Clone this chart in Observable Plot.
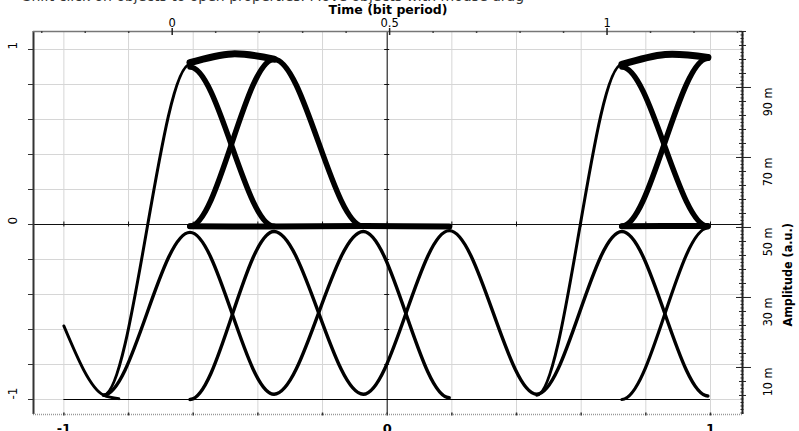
<!DOCTYPE html>
<html>
<head>
<meta charset="utf-8">
<script src="https://cdn.jsdelivr.net/npm/d3@7"></script>
<script src="https://cdn.jsdelivr.net/npm/@observablehq/plot@0.6"></script>
<style>
  html, body { margin: 0; padding: 0; background: #fff; }
  #chart { width: 799px; height: 431px; overflow: hidden; }
</style>
</head>
<body>
<div id="chart"></div>
<script>
// ---- data (bottom axis units / amplitude) ----
const symbolX = [-0.877, -0.61, -0.35, -0.074, 0.192, 0.463, 0.726, 0.992];

const steepTrace   = [-0.975, 0.915, null, null, null, -0.975, 0.915, null];
const topFallTrace = [null, 0.90, -0.01, null, null, null, 0.90, -0.01];
const topRiseTrace = [null, -0.01, 0.945, -0.01, null, null, -0.01, 0.95];
const zeroTrace    = [null, -0.01, -0.012, -0.008, -0.012, null, -0.01, -0.008];
const lowTraceA    = [-0.975, -0.045, -0.97, -0.04, -0.99, null, null, null];
const lowTraceB    = [null, -1, -0.04, -0.97, -0.035, -0.97, -0.04, -0.98];
const lowTraceC    = [null, null, null, null, null, null, -1, -0.02];

const plateauX = [-0.61, -0.48, -0.35, null, 0.726, 0.86, 0.992];
const plateauY = [0.925, 0.975, 0.945, null, 0.915, 0.972, 0.955];

const leadInX = [-1, -0.877, -0.83];
const leadInY = [-0.58, -0.975, -0.995];

const floorLevel = -1;

// tick labels
const bottomTickLabels = [-1, 0, 1];
const leftTickLabels = [-1, 0, 1];
const topTickLabels = [0, 0.5, 1];
const rightTickLabels = [10, 30, 50, 70, 90];

// ---- layout helpers ----
const xMin = -1.094, xMax = 1.099, yMin = -1.0857, yMax = 1.1029;
const PX = 1 / 323.3, PY = 1 / 175;
const topToX = d3.scaleLinear().domain([0, 1]).range([-0.665, 0.68]);   // top axis (bit period)
const mToY = d3.scaleLinear().domain([10, 90]).range([-0.817, 0.783]);  // right axis (m)

const gridXs = d3.range(-5, 6).map(i => i * 0.2);
const gridYs = d3.range(-5, 6).map(i => i * 0.2);
const topMinor = d3.range(-3, 14).map(i => i / 10).filter(t => ![0, 0.5, 1].includes(t));
const rightMinor = d3.range(-3, 107);
const rightMedium = d3.range(2, 107, 4);

function curveEase(context) {
  let x0, y0, i;
  return {
    areaStart() {}, areaEnd() {},
    lineStart() { i = 0; },
    lineEnd() {},
    point(x, y) {
      x = +x; y = +y;
      if (i++ === 0) context.moveTo(x, y);
      else { const d = (x - x0) / 3; context.bezierCurveTo(x0 + d, y0, x - d, y, x, y); }
      x0 = x; y0 = y;
    }
  };
}

const pts = (xs, ys) => xs.map((x, i) => ({x: x ?? NaN, y: ys[i] ?? NaN}));
const trace = (ys, w, xs = symbolX, curve = curveEase) =>
  Plot.line(pts(xs, ys), {x: "x", y: "y", curve, stroke: "black", strokeWidth: w,
    strokeLinecap: "round", strokeLinejoin: "round"});

const narrow = "'Liberation Sans Narrow', 'DejaVu Sans Condensed', 'Arial Narrow', sans-serif";

const chart = Plot.plot({
  width: 799, height: 431,
  marginLeft: 33, marginRight: 57, marginTop: 31, marginBottom: 17,
  x: {domain: [xMin, xMax], axis: null},
  y: {domain: [yMin, yMax], axis: null},
  style: {background: "white", fontFamily: "'DejaVu Sans', sans-serif", fontSize: "12px", overflow: "visible"},
  marks: [
    // grid
    Plot.ruleX(gridXs, {stroke: "#d6d6d6", strokeWidth: 1}),
    Plot.ruleY(gridYs, {stroke: "#d6d6d6", strokeWidth: 1}),
    // centre axes
    Plot.ruleY([0], {stroke: "#111", strokeWidth: 1}),
    Plot.ruleX([0], {stroke: "#111", strokeWidth: 1}),
    Plot.ruleX(gridXs, {y1: -2.5 * PY, y2: 2.5 * PY, stroke: "#111"}),
    Plot.ruleY(gridYs, {x1: -2.5 * PX, x2: 2.5 * PX, stroke: "#111"}),
    // floor trace
    Plot.ruleY([floorLevel], {x1: -1, x2: 1, stroke: "#000", strokeWidth: 1.2}),
    // eye traces
    trace(zeroTrace, 6),
    trace(lowTraceA, 3.4),
    trace(lowTraceB, 3.4),
    trace(lowTraceC, 3.2),
    trace(steepTrace, 3),
    trace(topFallTrace, 5.5),
    trace(topRiseTrace, 5.5),
    trace(plateauY, 7, plateauX, "natural"),
    trace(leadInY, 3, leadInX, "monotone-x"),
    // frame: left axis
    Plot.ruleX([xMin], {stroke: "#333", strokeWidth: 2}),
    Plot.ruleY(gridYs, {x1: xMin - 5 * PX, x2: xMin, stroke: "#333"}),
    // top axis
    Plot.ruleY([yMax], {stroke: "#777", strokeWidth: 1.5}),
    Plot.ruleX(topMinor.map(topToX), {y1: yMax, y2: yMax - 2 * PY, stroke: "#444", strokeWidth: 1.5}),
    Plot.ruleX(topTickLabels.map(topToX), {y1: yMax + 3 * PY, y2: yMax - 4 * PY, stroke: "#222", strokeWidth: 1.5}),
    // bottom frame
    Plot.ruleY([yMin], {stroke: "#999", strokeWidth: 1.5, strokeDasharray: "1,1"}),
    Plot.ruleX(gridXs, {y1: yMin - 1.5 * PY, y2: yMin + 1.5 * PY, stroke: "#333", strokeWidth: 1.5}),
    // right axis
    Plot.ruleX([xMax], {stroke: "#222", strokeWidth: 2}),
    Plot.ruleY(rightMinor.map(mToY), {x1: xMax - 1.5 * PX, x2: xMax + 1.5 * PX, stroke: "#222"}),
    Plot.ruleY(rightMedium.map(mToY), {x1: xMax - 3 * PX, x2: xMax + 4 * PX, stroke: "#222"}),
    Plot.ruleY(rightTickLabels.map(mToY), {x1: xMax - 6 * PX, x2: xMax + 9 * PX, stroke: "#222"}),
    // labels
    Plot.text(["Shift click on objects to open properties. Move objects with mouse drag"],
      {frameAnchor: "top-left", dx: -11, dy: -30.5, textAnchor: "start", lineAnchor: "bottom", fontSize: 14, fill: "#333"}),
    Plot.text(["Time (bit period)"],
      {frameAnchor: "top", dy: -17.5, lineAnchor: "bottom", fontWeight: "bold", fontSize: 12.5}),
    Plot.text(topTickLabels, {x: d => topToX(d), text: d => String(d), frameAnchor: "top", dy: -4.5, lineAnchor: "bottom", fontSize: 11.5}),
    Plot.text(bottomTickLabels, {x: d => d, text: d => String(d), frameAnchor: "bottom", dy: 18.5, lineAnchor: "bottom", fontSize: 13, fontWeight: "bold"}),
    Plot.text(leftTickLabels, {y: d => d, text: d => String(d), frameAnchor: "left", dx: -20, rotate: -90, fontSize: 12}),
    Plot.text(rightTickLabels, {y: d => mToY(d), text: d => d + " m", frameAnchor: "right", dx: 25, rotate: -90, fontSize: 12.5, fontFamily: narrow}),
    Plot.text(["Amplitude (a.u.)"], {frameAnchor: "right", dx: 45, rotate: -90, fontSize: 12.5, fontWeight: "bold", fontFamily: narrow})
  ]
});
document.getElementById("chart").appendChild(chart);
</script>
</body>
</html>
